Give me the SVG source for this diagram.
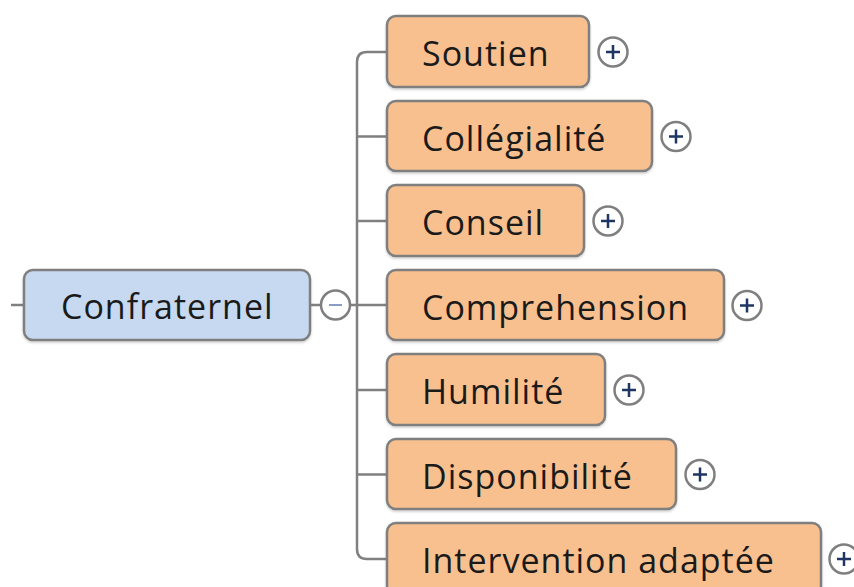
<svg xmlns="http://www.w3.org/2000/svg" width="854" height="587" viewBox="0 0 854 587">
<style>
.box{stroke:#7f7f7f;stroke-width:2.5}
.child{fill:#f8c08f}
.root{fill:#c6d9f1}
.t{font-family:"Open Sans","DejaVu Sans",sans-serif;font-size:34px;letter-spacing:1px;fill:#1a1a1a}
.c{fill:none;stroke:#808080;stroke-width:2.5}
.tog{fill:#fff;stroke:#7f7f7f;stroke-width:2.5}
.plus{stroke:#1f3564;stroke-width:2.5}
</style>
<defs>
<filter id="sh" x="-5%" y="-10%" width="110%" height="125%">
<feDropShadow dx="0" dy="1.5" stdDeviation="1" flood-color="#000" flood-opacity="0.2"/>
</filter>
<g id="plusIcon">
<circle class="tog" cx="0" cy="0" r="14.5"/>
<path class="plus" d="M-7,0H7M0,-7V7"/>
</g>
</defs>
<g id="connectors">
<path class="c" d="M11,305H24"/>
<path class="c" d="M310,305H321"/>
<path class="c" d="M350,305H387"/>
<path class="c" d="M387,52H367Q357,52 357,62V549Q357,559 367,559H387"/>
<path class="c" d="M357,136.5H387M357,221H387M357,390H387M357,474.5H387"/>
</g>
<g id="root">
<rect class="box root" filter="url(#sh)" x="24" y="270" width="286" height="70" rx="9"/>
<text class="t" x="61" y="319">Confraternel</text>
<circle class="tog" cx="335.5" cy="305" r="14.5"/>
<path d="M329,305H342" stroke="#8c9cc6" stroke-width="2"/>
</g>
<g id="n1">
<rect class="box child" filter="url(#sh)" x="387" y="16" width="202" height="71" rx="9"/>
<text class="t" x="422" y="66">Soutien</text>
<use href="#plusIcon" x="613" y="52"/>
</g>
<g id="n2">
<rect class="box child" filter="url(#sh)" x="387" y="101" width="265" height="70" rx="9"/>
<text class="t" x="422" y="150.5">Collégialité</text>
<use href="#plusIcon" x="676" y="136.5"/>
</g>
<g id="n3">
<rect class="box child" filter="url(#sh)" x="387" y="185" width="197" height="71" rx="9"/>
<text class="t" x="422" y="235">Conseil</text>
<use href="#plusIcon" x="608" y="221"/>
</g>
<g id="n4">
<rect class="box child" filter="url(#sh)" x="387" y="270" width="337" height="70" rx="9"/>
<text class="t" x="422" y="319.5">Comprehension</text>
<use href="#plusIcon" x="747" y="305.5"/>
</g>
<g id="n5">
<rect class="box child" filter="url(#sh)" x="387" y="354" width="218" height="71" rx="9"/>
<text class="t" x="422" y="404">Humilité</text>
<use href="#plusIcon" x="629" y="390"/>
</g>
<g id="n6">
<rect class="box child" filter="url(#sh)" x="387" y="439" width="289" height="70" rx="9"/>
<text class="t" x="422" y="488.5">Disponibilité</text>
<use href="#plusIcon" x="700" y="474.5"/>
</g>
<g id="n7">
<rect class="box child" filter="url(#sh)" x="387" y="523" width="434" height="72" rx="9"/>
<text class="t" x="422" y="573">Intervention adaptée</text>
<use href="#plusIcon" x="844" y="559"/>
</g>
</svg>
